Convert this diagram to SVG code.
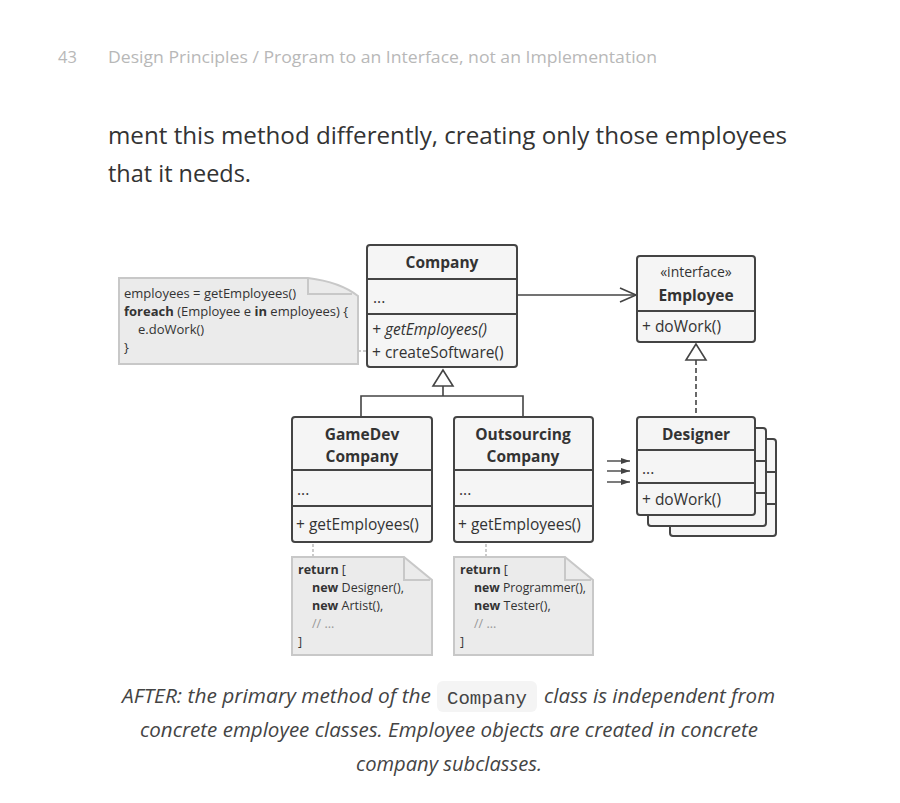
<svg xmlns="http://www.w3.org/2000/svg" width="900" height="803" viewBox="0 0 900 803">
<defs>
<style>
.t{font-family:"Open Sans","Noto Sans","Liberation Sans",sans-serif;fill:#333;}
.box{fill:#f5f5f5;stroke:#444;stroke-width:2;}
.div{stroke:#444;stroke-width:2;}
.cls{font-size:15.5px;}
.b{font-weight:bold;}
.note{fill:#ebebeb;stroke:#c8c8c8;stroke-width:2;}
.code{font-size:13px;}
.code2{font-size:12.5px;}
.line{fill:none;stroke:#444;stroke-width:1.6;}
.cap{font-family:"Open Sans","Noto Sans",sans-serif;font-style:italic;font-size:20px;fill:#444;}
</style>
<marker id="open" markerWidth="20" markerHeight="16" refX="18" refY="8" orient="auto" markerUnits="userSpaceOnUse">
<path d="M2,1 L18,8 L2,15" fill="none" stroke="#444" stroke-width="1.6"/>
</marker>
<marker id="fill" markerWidth="10" markerHeight="8" refX="9" refY="4" orient="auto" markerUnits="userSpaceOnUse">
<path d="M0,1 L9,4 L0,7 Z" fill="#444"/>
</marker>
</defs>
<rect width="900" height="803" fill="#fff"/>

<g id="page-header">
<text x="58" y="63" font-family="Open Sans, sans-serif" font-size="16.5" fill="#b8b8b8">43</text>
<text x="108" y="63" font-family="Open Sans, sans-serif" font-size="16.5" fill="#b8b8b8" textLength="549" lengthAdjust="spacingAndGlyphs">Design Principles / Program to an Interface, not an Implementation</text>
</g>
<g id="body-text">
<text x="108" y="144" class="t" font-size="23" fill="#333" textLength="679" lengthAdjust="spacingAndGlyphs">ment this method differently, creating only those employees</text>
<text x="108" y="182" class="t" font-size="23" fill="#333" textLength="143" lengthAdjust="spacingAndGlyphs">that it needs.</text>
</g>

<g id="connectors">
<line x1="517" y1="295" x2="636" y2="295" class="line" marker-end="url(#open)"/>
<line x1="358" y1="351" x2="367" y2="351" stroke="#999" stroke-width="1.2" stroke-dasharray="3,2"/>
<polygon points="443,370 433,386 453,386" fill="#fff" stroke="#444" stroke-width="1.6"/>
<path d="M443,386 V396 M361,417 V396 H523 V417" class="line"/>
<polygon points="696,344 686,360 706,360" fill="#fff" stroke="#444" stroke-width="1.6"/>
<line x1="696" y1="360" x2="696" y2="417" stroke="#444" stroke-width="1.6" stroke-dasharray="5,3"/>
<line x1="607" y1="461" x2="630" y2="461" stroke="#444" stroke-width="1.4" marker-end="url(#fill)"/>
<line x1="607" y1="471" x2="630" y2="471" stroke="#444" stroke-width="1.4" marker-end="url(#fill)"/>
<line x1="607" y1="482" x2="630" y2="482" stroke="#444" stroke-width="1.4" marker-end="url(#fill)"/>
<line x1="313" y1="544" x2="313" y2="557" stroke="#aaa" stroke-width="1.2" stroke-dasharray="3,2"/>
<line x1="486" y1="544" x2="486" y2="557" stroke="#aaa" stroke-width="1.2" stroke-dasharray="3,2"/>
</g>

<g id="note-company">
<path d="M119,278 H308 Q340,282 358,296 V364 H119 Z" class="note"/>
<path d="M308,278 V294 H352" fill="none" stroke="#c8c8c8" stroke-width="2"/>
<text class="t code" x="124" y="298">employees = getEmployees()</text>
<text class="t code" x="124" y="316"><tspan font-weight="bold">foreach</tspan> (Employee e <tspan font-weight="bold">in</tspan> employees) {</text>
<text class="t code" x="138" y="334">e.doWork()</text>
<text class="t code" x="124" y="352">}</text>
</g>

<g id="company">
<rect x="367" y="245" width="150" height="122" rx="3" class="box"/>
<line x1="367" y1="279" x2="517" y2="279" class="div"/>
<line x1="367" y1="314" x2="517" y2="314" class="div"/>
<text class="t cls b" x="442" y="268" text-anchor="middle">Company</text>
<text class="t cls" x="373" y="303">...</text>
<text class="t cls" x="372" y="335" font-style="italic">+ getEmployees()</text>
<text class="t cls" x="372" y="358">+ createSoftware()</text>
</g>

<g id="employee">
<rect x="637" y="256" width="118" height="86" rx="3" class="box"/>
<line x1="637" y1="311" x2="755" y2="311" class="div"/>
<text class="t" font-size="14" x="696" y="277" text-anchor="middle">«interface»</text>
<text class="t cls b" x="696" y="301" text-anchor="middle">Employee</text>
<text class="t cls" x="642" y="332">+ doWork()</text>
</g>

<g id="gamedev">
<rect x="292" y="417" width="140" height="125" rx="3" class="box"/>
<line x1="292" y1="470" x2="432" y2="470" class="div"/>
<line x1="292" y1="506" x2="432" y2="506" class="div"/>
<text class="t cls b" x="362" y="440" text-anchor="middle">GameDev</text>
<text class="t cls b" x="362" y="462" text-anchor="middle">Company</text>
<text class="t cls" x="297" y="495">...</text>
<text class="t cls" x="296" y="530">+ getEmployees()</text>
</g>

<g id="outsourcing">
<rect x="454" y="417" width="139" height="125" rx="3" class="box"/>
<line x1="454" y1="470" x2="593" y2="470" class="div"/>
<line x1="454" y1="506" x2="593" y2="506" class="div"/>
<text class="t cls b" x="523" y="440" text-anchor="middle">Outsourcing</text>
<text class="t cls b" x="523" y="462" text-anchor="middle">Company</text>
<text class="t cls" x="459" y="495">...</text>
<text class="t cls" x="458" y="530">+ getEmployees()</text>
</g>

<g id="designer">
<rect x="670" y="439" width="106" height="97" rx="3" class="box"/>
<line x1="755" y1="472" x2="776" y2="472" class="div"/>
<line x1="755" y1="504" x2="776" y2="504" class="div"/>
<rect x="648" y="428" width="118" height="98" rx="3" class="box"/>
<line x1="755" y1="461" x2="766" y2="461" class="div"/>
<line x1="755" y1="493" x2="766" y2="493" class="div"/>
<rect x="637" y="417" width="118" height="98" rx="3" class="box"/>
<line x1="637" y1="450" x2="755" y2="450" class="div"/>
<line x1="637" y1="483" x2="755" y2="483" class="div"/>
<text class="t cls b" x="696" y="440" text-anchor="middle">Designer</text>
<text class="t cls" x="642" y="474">...</text>
<text class="t cls" x="642" y="505">+ doWork()</text>
</g>

<g id="note-gamedev">
<path d="M292,557 H404 L432,580 V655 H292 Z" class="note"/>
<path d="M404,557 V580 H430" fill="none" stroke="#c8c8c8" stroke-width="2"/>
<text class="t code2" x="298" y="574"><tspan font-weight="bold">return</tspan> [</text>
<text class="t code2" x="312" y="592"><tspan font-weight="bold">new</tspan> Designer(),</text>
<text class="t code2" x="312" y="610"><tspan font-weight="bold">new</tspan> Artist(),</text>
<text class="t code2" x="312" y="628" style="fill:#999">// ...</text>
<text class="t code2" x="298" y="646">]</text>
</g>

<g id="note-outsourcing">
<path d="M454,557 H565 L593,580 V655 H454 Z" class="note"/>
<path d="M565,557 V580 H591" fill="none" stroke="#c8c8c8" stroke-width="2"/>
<text class="t code2" x="460" y="574"><tspan font-weight="bold">return</tspan> [</text>
<text class="t code2" x="474" y="592" textLength="112" lengthAdjust="spacingAndGlyphs"><tspan font-weight="bold">new</tspan> Programmer(),</text>
<text class="t code2" x="474" y="610"><tspan font-weight="bold">new</tspan> Tester(),</text>
<text class="t code2" x="474" y="628" style="fill:#999">// ...</text>
<text class="t code2" x="460" y="646">]</text>
</g>

<g id="caption">
<rect x="437" y="681" width="100" height="31" rx="6" fill="#f4f4f4"/>
<text x="122" y="703" class="cap" textLength="309" lengthAdjust="spacingAndGlyphs">AFTER: the primary method of the</text>
<text x="447" y="704" font-family="Liberation Mono, monospace" font-size="18" fill="#444" textLength="80" lengthAdjust="spacingAndGlyphs">Company</text>
<text x="544" y="703" class="cap" textLength="231" lengthAdjust="spacingAndGlyphs">class is independent from</text>
<text x="140" y="737" class="cap" textLength="618" lengthAdjust="spacingAndGlyphs">concrete employee classes. Employee objects are created in concrete</text>
<text x="356" y="771" class="cap" textLength="186" lengthAdjust="spacingAndGlyphs">company subclasses.</text>
</g>
</svg>
